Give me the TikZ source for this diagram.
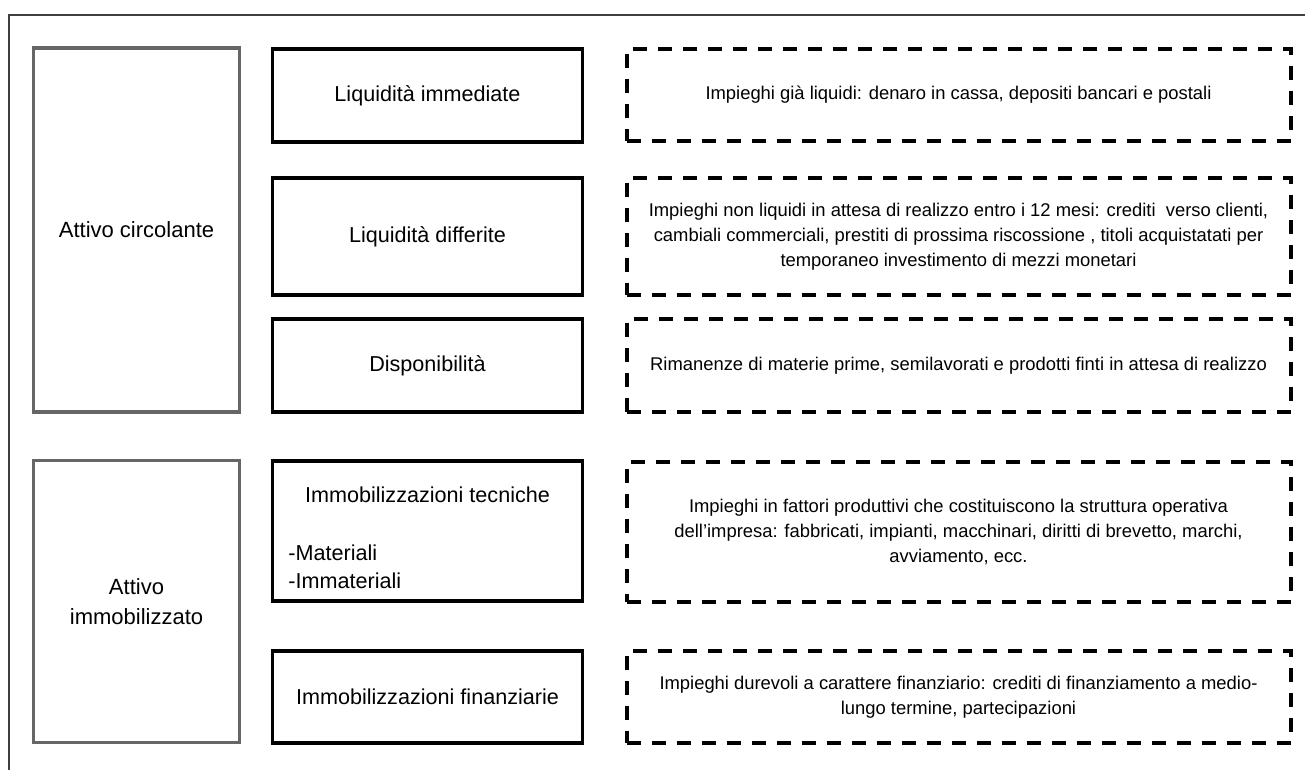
\documentclass[tikz,border=0pt]{standalone}
\usepackage{fontspec}
\setmainfont{Liberation Sans}
\begin{document}
\begin{tikzpicture}[x=0.5pt,y=-0.5pt,
  leftbox/.style={draw=black!60,line width=1.7pt,rectangle,inner sep=0pt,
    minimum width=103pt,align=center,font=\fontsize{11}{15}\selectfont,text=black},
  midbox/.style={draw=black,line width=1.7pt,rectangle,inner sep=0pt,
    minimum width=155pt,align=center,font=\fontsize{10.8}{14}\selectfont,text=black},
  descbox/.style={draw=black,line width=2pt,dash pattern=on 7pt off 5.5pt,rectangle,inner sep=0pt,
    minimum width=332pt,align=center,font=\fontsize{9.2}{12.5}\selectfont,text=black},
  plain/.style={inner sep=0pt,font=\fontsize{10.8}{14}\selectfont,text=black}]
\useasboundingbox (0,0) rectangle (1305,770);
\fill[white] (0,0) rectangle (1305,770);
% outer frame
\coordinate (fbl) at (9,770);
\coordinate (ftl) at (9,15);
\coordinate (ftr) at (1305,15);
\draw[black!75,line width=1pt] (fbl) -- (ftl) -- (ftr);
% left boxes
\node[leftbox,minimum height=182pt] (ac) at (136.5,230) {Attivo circolante};
\node[leftbox,minimum height=141pt] (ai) at (136.5,601.5) {Attivo\\immobilizzato};
% middle boxes
\node[midbox,minimum height=46.5pt] (m1) at (427.5,95.5) {Liquidità immediate};
\node[midbox,minimum height=58.5pt] (m2) at (427.5,236.5) {Liquidità differite};
\node[midbox,minimum height=46.5pt] (m3) at (427.5,365.5) {Disponibilità};
\node[midbox,minimum height=70pt] (m4) at (427.5,531) {};
\node[plain] (m4t) at (427.5,495) {Immobilizzazioni tecniche};
\node[plain,anchor=west] (m4a) at (288,553) {-Materiali};
\node[plain,anchor=west] (m4b) at (288,581) {-Immateriali};
\node[midbox,minimum height=46pt] (m5) at (427.5,697) {Immobilizzazioni finanziarie};
% description boxes
\node[descbox,minimum height=46pt] (d1) at (958.5,95) {Impieghi già liquidi: denaro in cassa, depositi bancari e postali};
\node[descbox,minimum height=58.5pt] (d2) at (958.5,236.5) {Impieghi non liquidi in attesa di realizzo entro i 12 mesi: crediti\ \ verso clienti,\\cambiali commerciali, prestiti di prossima riscossione , titoli acquistatati per\\temporaneo investimento di mezzi monetari};
\node[descbox,minimum height=46.5pt] (d3) at (958.5,365.5) {Rimanenze di materie prime, semilavorati e prodotti finti in attesa di realizzo};
\node[descbox,minimum height=70pt] (d4) at (958.5,532) {Impieghi in fattori produttivi che costituiscono la struttura operativa\\dell'impresa: fabbricati, impianti, macchinari, diritti di brevetto, marchi,\\avviamento, ecc.};
\node[descbox,minimum height=46pt] (d5) at (958.5,697) {Impieghi durevoli a carattere finanziario: crediti di finanziamento a medio-\\lungo termine, partecipazioni};
\end{tikzpicture}
\end{document}
